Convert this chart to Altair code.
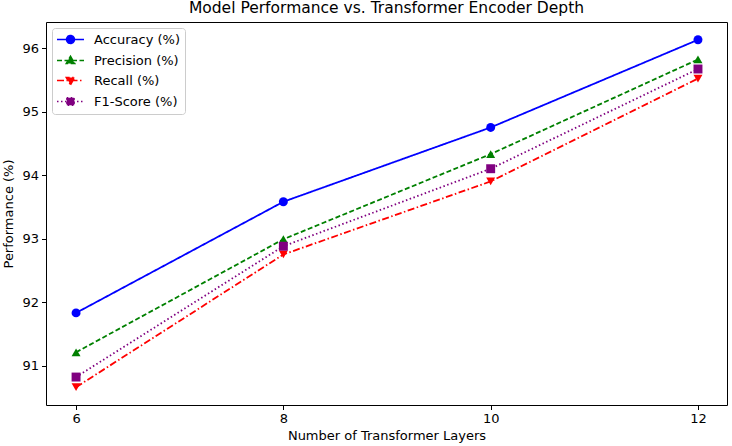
import altair as alt
import pandas as pd

layers = [6, 8, 10, 12]
metrics = ["Accuracy (%)", "Precision (%)", "Recall (%)", "F1-Score (%)"]
accuracy = [91.83, 93.58, 94.75, 96.13]
precision = [91.21, 92.99, 94.33, 95.82]
recall = [90.66, 92.75, 93.90, 95.52]
f1_score = [90.82, 92.88, 94.10, 95.67]

colors = ["#0000ff", "#008000", "#ff0000", "#800080"]
dashes = [[1, 0], [5, 2.5], [7, 2.5, 1.5, 2.5], [1.5, 2.5]]
shapes = ["circle", "triangle-up", "triangle-down", "square"]
legend_paths = [
    "M-2.7,0H2.7M0.8,0A0.8,0.8,0,1,1,-0.8,0A0.8,0.8,0,1,1,0.8,0Z",
    "M-2.7,0H2.7M0,-0.85L0.85,0.6L-0.85,0.6Z",
    "M-2.7,0H2.7M0,0.85L0.85,-0.6L-0.85,-0.6Z",
    "M-2.7,0H2.7M-0.75,-0.75H0.75V0.75H-0.75Z",
]
x_ticks = [6, 8, 10, 12]
y_ticks = [91, 92, 93, 94, 95, 96]

series = [accuracy, precision, recall, f1_score]
rows = []
for m, vals in zip(metrics, series):
    for x, v in zip(layers, vals):
        rows.append({"Layers": x, "Value": v, "Metric": m})
df = pd.DataFrame(rows)

color_scale = alt.Scale(domain=metrics, range=colors)
dash_scale = alt.Scale(domain=metrics, range=dashes)

leg = alt.Legend(
    title=None, orient="top-left", offset=6,
    symbolSize=100, symbolStrokeWidth=1.5, symbolOffset=7, labelOffset=17,
    labelFont="DejaVu Sans", labelFontSize=13, labelColor="black",
    rowPadding=6, padding=5,
    fillColor="rgba(255,255,255,0.8)", strokeColor="#cccccc", cornerRadius=3,
)

base = alt.Chart(df).encode(
    x=alt.X(
        "Layers:Q",
        scale=alt.Scale(domain=[5.71, 12.28], nice=False, zero=False),
        axis=alt.Axis(values=x_ticks, title="Number of Transformer Layers",
                      labelPadding=3, titlePadding=4),
    ),
    y=alt.Y(
        "Value:Q",
        scale=alt.Scale(domain=[90.38, 96.41], nice=False, zero=False),
        axis=alt.Axis(values=y_ticks, title="Performance (%)",
                      labelPadding=3, titlePadding=6),
    ),
)

legend_layer = base.transform_filter("false").mark_point(
    filled=True, size=100, opacity=1, strokeWidth=1.5
).encode(
    color=alt.Color("Metric:N", scale=color_scale, legend=leg),
    stroke=alt.Stroke("Metric:N", scale=alt.Scale(domain=metrics, range=colors), legend=leg),
    shape=alt.Shape("Metric:N", scale=alt.Scale(domain=metrics, range=legend_paths), legend=leg),
    strokeDash=alt.StrokeDash("Metric:N", scale=dash_scale, legend=leg),
)

lines = base.mark_line(strokeWidth=1.8).encode(
    color=alt.Color("Metric:N", scale=color_scale, legend=leg),
    strokeDash=alt.StrokeDash("Metric:N", scale=dash_scale, legend=leg),
)

point_layers = []
for m, shp in zip(metrics, shapes):
    point_layers.append(
        base.transform_filter(alt.datum.Metric == m)
        .mark_point(shape=shp, filled=True, size=80, opacity=1)
        .encode(color=alt.Color("Metric:N", scale=color_scale, legend=leg))
    )

chart = alt.layer(legend_layer, lines, *point_layers).properties(
    width=681, height=383,
    title=alt.Title("Model Performance vs. Transformer Encoder Depth",
                    fontSize=15.5, font="DejaVu Sans", fontWeight="normal",
                    color="black", offset=6),
    padding={"left": 46, "top": 22, "right": 5, "bottom": 41},
    autosize=alt.AutoSizeParams(type="none"),
).configure_view(
    stroke="black", strokeWidth=1
).configure_axis(
    domain=False, grid=False, tickColor="black", tickSize=4.5, tickWidth=1,
    labelFont="DejaVu Sans", labelFontSize=13, labelColor="black",
    titleFont="DejaVu Sans", titleFontSize=13, titleFontWeight="normal", titleColor="black",
)

chart.save("out.html", embed_options={"renderer": "svg", "actions": False})
